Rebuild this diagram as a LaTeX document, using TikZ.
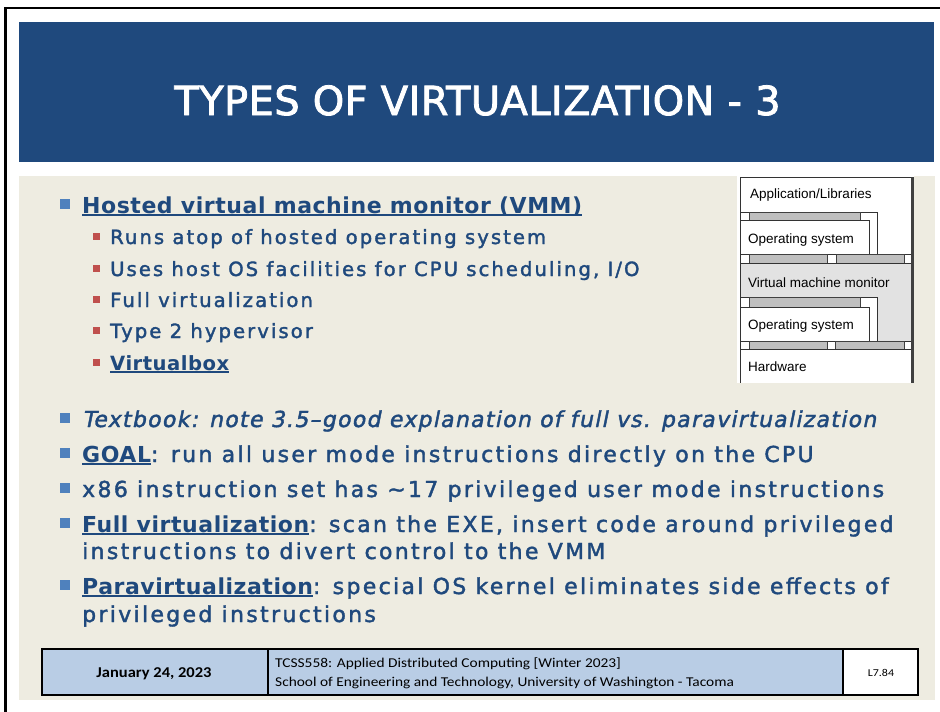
\documentclass[tikz,border=0pt]{standalone}
\usepackage{fontspec}
\newfontfamily\bodyR{DejaVu Sans}[LetterSpace=10.5, FakeBold=1.8]
\newfontfamily\bodyB{DejaVu Sans}[LetterSpace=2.5]
\newfontfamily\bodyI{DejaVu Sans}[LetterSpace=5.8, FakeBold=1.8, FakeSlant=0.2]
\newfontfamily\titlefont{DejaVu Sans}[FakeBold=2, LetterSpace=1]
\newfontfamily\footfont{Carlito}[FakeStretch=1.14]
\newfontfamily\footfontB{Carlito Bold}[FakeStretch=1.1]
\newfontfamily\diafont{Liberation Sans}
\definecolor{tblue}{HTML}{1F497D}
\definecolor{beige}{HTML}{EEECE1}
\definecolor{bulblue}{HTML}{4F81BD}
\definecolor{bulred}{HTML}{C0504D}
\definecolor{footblue}{HTML}{B9CDE5}
\definecolor{bargrey}{HTML}{BFBFBF}
\definecolor{vmmgrey}{HTML}{E2E2E2}
\newcommand\ulin[1]{\setbox0\hbox{#1}\rlap{\rule[-2.6pt]{\wd0}{1.4pt}}\box0}
\newcommand\emb[1]{{\bodyB\bfseries\ulin{#1}}}
\tikzset{
  body/.style={anchor=base west, inner sep=0pt, text=tblue, font=\bodyR\fontsize{22}{26}\selectfont},
  subbody/.style={anchor=base west, inner sep=0pt, text=tblue, font=\bodyR\fontsize{19.6}{24}\selectfont},
  bulA/.style={fill=bulblue, minimum size=10pt, inner sep=0pt, draw=none},
  bulB/.style={fill=bulred, minimum size=7pt, inner sep=0pt, draw=none},
  dtext/.style={anchor=base west, inner sep=0pt, font=\diafont\fontsize{13.5}{16}\selectfont},
  dline/.style={draw=black!80, line width=0.9pt},
  bar/.style={fill=bargrey, draw=black!75, line width=0.8pt},
  cell/.style={draw=black, line width=1.2pt},
}
\begin{document}
\begin{tikzpicture}[x=1pt,y=-1pt]
\useasboundingbox (0,0) rectangle (940,712);
\fill[white] (0,0) rectangle (940,712);
% outer frame
\draw[line width=2.5pt] (5.3,712) -- (5.3,8) -- (940,8);
% title bar
\fill[tblue] (19,22) rectangle (934,162);
\node[anchor=base, inner sep=0pt, text=white, font=\titlefont\fontsize{40}{48}\selectfont] (title) at (477.5,115) {TYPES OF VIRTUALIZATION - 3};
% content background
\fill[beige] (19,176) rectangle (935,700);

% ---- diagram ----
\fill[white] (737,176) rectangle (914,383);
\draw[dline, fill=white] (740,177) -- (912,177) -- (912,254) -- (877,254) -- (877,212) -- (740,212) -- cycle;
\draw[bar] (749,212) rectangle (860,220);
\draw[dline, fill=white] (740,220) rectangle (869,254);
\draw[bar] (749,254) rectangle (827,263);
\draw[bar] (836,254) rectangle (904,263);
\draw[dline, fill=vmmgrey] (740,263) -- (912,263) -- (912,341) -- (877,341) -- (877,297) -- (740,297) -- cycle;
\draw[bar] (749,297) rectangle (860,307);
\draw[dline, fill=white] (740,307) rectangle (869,341);
\draw[bar] (749,341) rectangle (827,349);
\draw[bar] (835,341) rectangle (904,349);
\draw[dline] (740,349) -- (912,349);
\draw[dline] (740,177) -- (740,383);
\draw[draw=black!75, line width=2.6pt] (912.5,177) -- (912.5,383);
\node[dtext] (dapp) at (750,198) {Application/Libraries};
\node[dtext] (dgos) at (748,243) {Operating system};
\node[dtext] (dvmm) at (748,287) {Virtual machine monitor};
\node[dtext] (dhos) at (748,329) {Operating system};
\node[dtext] (dhw) at (748,371) {Hardware};

% ---- bullets ----
\node[bulA] (ba1) at (65,204) {};
\node[body] (t1) at (82,213) {\emb{Hosted virtual machine monitor (VMM)}};
\node[bulB] (bb1) at (96.5,236.5) {};
\node[subbody] (s1) at (110,244) {Runs atop of hosted operating system};
\node[bulB] (bb2) at (96.5,268.5) {};
\node[subbody] (s2) at (110,276) {Uses host OS facilities for CPU scheduling, I/O};
\node[bulB] (bb3) at (96.5,299.5) {};
\node[subbody] (s3) at (110,307) {Full virtualization};
\node[bulB] (bb4) at (96.5,330.5) {};
\node[subbody] (s4) at (110,338) {Type 2 hypervisor};
\node[bulB] (bb5) at (96.5,362.5) {};
\node[subbody] (s5) at (110,370) {\emb{Virtualbox}};

\node[bulA] (ba2) at (65,418) {};
\node[body, font=\bodyI\fontsize{22}{26}\selectfont] (t2) at (82,427) {Textbook: note 3.5–good explanation of full vs. paravirtualization};
\node[bulA] (ba3) at (65,453) {};
\node[body] (t3) at (82,462) {\emb{GOAL}: run all user mode instructions directly on the CPU};
\node[bulA] (ba4) at (65,488) {};
\node[body] (t4) at (82,497) {x86 instruction set has \textasciitilde17 privileged user mode instructions};
\node[bulA] (ba5) at (65,523) {};
\node[body] (t5) at (82,532) {\emb{Full virtualization}: scan the EXE, insert code around privileged};
\node[body] (t5b) at (82,559) {instructions to divert control to the VMM};
\node[bulA] (ba6) at (65,585) {};
\node[body] (t6) at (82,594) {\emb{Paravirtualization}: special OS kernel eliminates side effects of};
\node[body] (t6b) at (82,622) {privileged instructions};

% ---- footer ----
\draw[cell, fill=footblue] (42,649) rectangle (268,695);
\draw[cell, fill=footblue] (268,649) rectangle (843,695);
\draw[cell, fill=white] (843,649) rectangle (918,695);
\node[anchor=base, inner sep=0pt, font=\footfontB\fontsize{15}{18}\selectfont] (fdate) at (154,677) {January 24, 2023};
\node[anchor=base west, inner sep=0pt, font=\footfont\fontsize{13.5}{16}\selectfont] (fc1) at (275,667) {TCSS558: Applied Distributed Computing [Winter 2023]};
\node[anchor=base west, inner sep=0pt, font=\footfont\fontsize{13.5}{16}\selectfont] (fc2) at (275,686) {School of Engineering and Technology, University of Washington - Tacoma};
\node[anchor=base, inner sep=0pt, font=\footfont\fontsize{10.5}{12}\selectfont] (fnum) at (881,676) {L7.84};
\end{tikzpicture}
\end{document}
